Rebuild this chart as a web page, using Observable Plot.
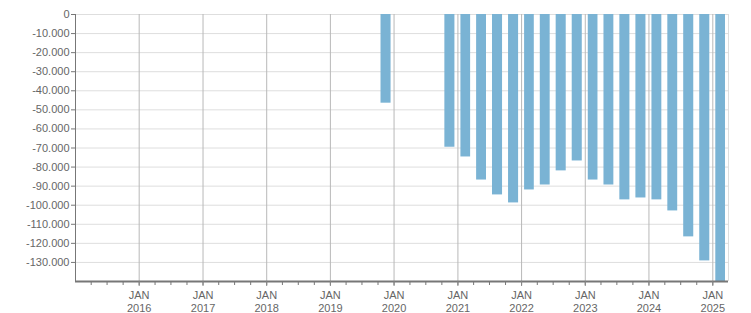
<!DOCTYPE html>
<html>
<head>
<meta charset="utf-8">
<script src="https://cdn.jsdelivr.net/npm/d3@7"></script>
<script src="https://cdn.jsdelivr.net/npm/@observablehq/plot@0.6"></script>
<style>
  html, body { margin: 0; padding: 0; background: #fff; }
</style>
</head>
<body>
<div id="chart"></div>
<script>
// Quarter start dates and values
const quarters = [
  "2019-10-01",
  "2020-10-01",
  "2021-01-01", "2021-04-01", "2021-07-01", "2021-10-01",
  "2022-01-01", "2022-04-01", "2022-07-01", "2022-10-01",
  "2023-01-01", "2023-04-01", "2023-07-01", "2023-10-01",
  "2024-01-01", "2024-04-01", "2024-07-01", "2024-10-01",
  "2025-01-01"
];
const values = [
  -46500,
  -69600,
  -74700, -86800, -94600, -98800,
  -92000, -89400, -82000, -76800,
  -86800, -89400, -97200, -96200,
  -97200, -103000, -116600, -129200,
  -140000
];
const yTickValues = [0, -10000, -20000, -30000, -40000, -50000, -60000, -70000, -80000, -90000, -100000, -110000, -120000, -130000];
const yearLabels = [2016, 2017, 2018, 2019, 2020, 2021, 2022, 2023, 2024, 2025];
const monthLabel = "JAN";

const data = quarters.map((q, i) => ({date: new Date(q), value: values[i]}));
const xDomain = [new Date("2015-01-01"), new Date("2025-04-01")];
const yDomain = [-140000, 0];
const janTicks = yearLabels.map(y => new Date(Date.UTC(y, 0, 1)));
const quarterTicks = d3.utcMonth.every(3).range(new Date("2015-04-01"), new Date("2025-04-01"));

const fmt = d3.formatLocale({decimal: ",", thousands: ".", grouping: [3], currency: ["", ""], minus: "-"}).format(",");

const chart = Plot.plot({
  width: 751,
  height: 313,
  marginLeft: 75,
  marginRight: 23,
  marginTop: 14,
  marginBottom: 32,
  style: {fontFamily: "Liberation Sans, Arial, sans-serif", fontSize: "11px", color: "#666", background: "#fff"},
  x: {type: "utc", domain: xDomain, label: null},
  y: {domain: yDomain, label: null},
  marks: [
    Plot.gridY(yTickValues, {stroke: "#dedede", strokeOpacity: 1}),
    Plot.gridX(janTicks, {stroke: "#b8b8b8", strokeOpacity: 1}),
    Plot.ruleX([xDomain[1]], {stroke: "#dedede"}),
    Plot.rectY(data, {x: "date", interval: d3.utcMonth.every(3), y: "value", fill: "#7ab3d4", insetLeft: 3, insetRight: 3}),
    Plot.ruleX([xDomain[0]], {stroke: "#777"}),
    Plot.ruleY([yDomain[0]], {stroke: "#777", strokeWidth: 2}),
    Plot.axisY(yTickValues, {label: null, tickFormat: fmt, tickSize: 4, tickPadding: 2, stroke: "#777", fill: "#666"}),
    Plot.axisX(quarterTicks, {label: null, tickSize: 4, tickFormat: () => "", stroke: "#777"}),
    Plot.axisX(janTicks, {label: null, tickSize: 5, tickPadding: 3, stroke: "#888", fill: "#666", lineHeight: 1.2,
      tickFormat: d => `${monthLabel}\n${d.getUTCFullYear()}`})
  ]
});
document.getElementById("chart").appendChild(chart);
</script>
</body>
</html>
